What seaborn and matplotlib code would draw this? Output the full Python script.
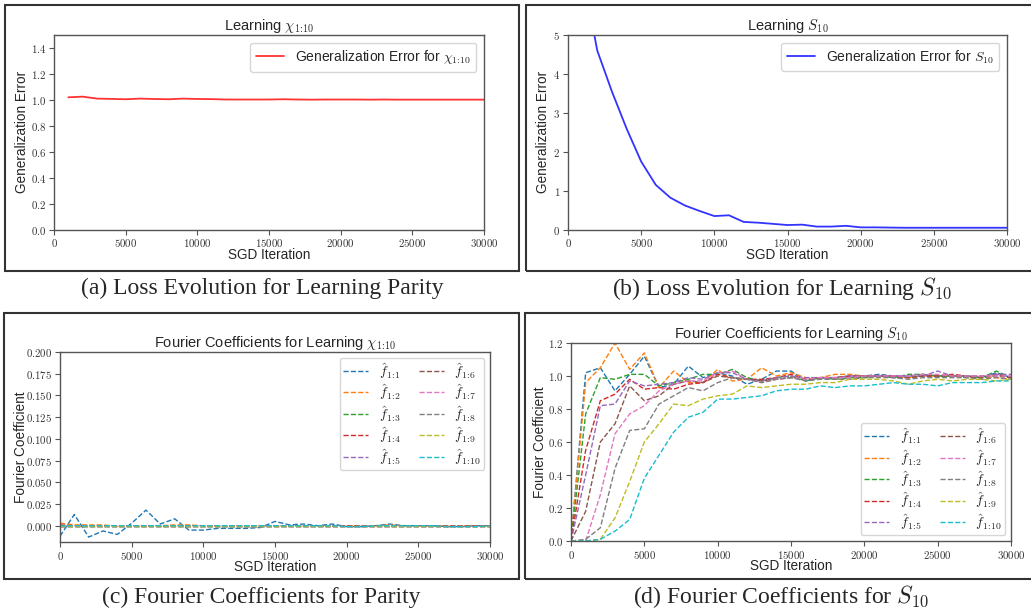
import numpy as np
import pandas as pd
import matplotlib
matplotlib.use("Agg")
import matplotlib.pyplot as plt
import seaborn as sns
from matplotlib.patches import Rectangle
from matplotlib.ticker import FormatStrFormatter, MultipleLocator

# ---------------- data ----------------
iters_a = [1000, 2000, 3000, 4000, 5000, 6000, 7000, 8000, 9000, 10000,
           11000, 12000, 13000, 14000, 15000, 16000, 17000, 18000, 19000, 20000,
           21000, 22000, 23000, 24000, 25000, 26000, 27000, 28000, 29000, 30000]
err_parity = [1.020, 1.025, 1.010, 1.008, 1.005, 1.010, 1.007, 1.005, 1.010, 1.007,
              1.006, 1.003, 1.003, 1.003, 1.003, 1.005, 1.003, 1.002, 1.003, 1.003,
              1.003, 1.002, 1.003, 1.002, 1.002, 1.002, 1.002, 1.002, 1.002, 1.002]
err_s10 = [6.6, 4.6, 3.55, 2.6, 1.75, 1.15, 0.82, 0.62, 0.48, 0.35,
           0.37, 0.20, 0.18, 0.15, 0.12, 0.13, 0.08, 0.08, 0.10, 0.06,
           0.06, 0.055, 0.05, 0.05, 0.05, 0.05, 0.05, 0.05, 0.05, 0.05]

iters = [0, 1000, 2000, 3000, 4000, 5000, 6000, 7000, 8000, 9000, 10000,
         11000, 12000, 13000, 14000, 15000, 16000, 17000, 18000, 19000, 20000,
         21000, 22000, 23000, 24000, 25000, 26000, 27000, 28000, 29000, 30000]

coef_labels = [r"$\hat{f}_{1\!:\!%d}$" % k for k in range(1, 11)]

# Parity Fourier coefficients
par_1 = [-0.012, 0.013, -0.013, -0.006, -0.010, 0.003, 0.018, 0.002, 0.008, -0.005, -0.005,
         -0.003, -0.003, -0.003, -0.002, 0.005, 0.001, 0.002, 0.000, 0.002, -0.001,
         -0.001, 0.000, 0.002, 0.000, 0.000, 0.000, -0.001, -0.001, 0.000, 0.000]
par_2 = [0.003, 0.001, 0.001, 0.001, -0.001, 0.000, 0.000, 0.000, 0.001, 0.001, 0.000,
         0.000, 0.000, 0.000, 0.000, 0.000, 0.000, 0.000, 0.000, 0.000, 0.000,
         0.000, 0.000, 0.001, 0.000, 0.000, 0.000, 0.000, 0.000, 0.000, 0.000]
par_3 = [0.000, 0.000, 0.000, 0.000, 0.000, 0.000, 0.000, 0.000, 0.000, 0.000, 0.000,
         0.000, 0.000, 0.000, 0.000, 0.000, 0.000, 0.000, 0.000, 0.000, 0.000,
         0.000, 0.000, 0.000, 0.000, 0.000, 0.000, 0.000, 0.000, 0.000, 0.000]
par_4 = [0.001, 0.000, 0.000, 0.000, 0.000, 0.000, 0.000, 0.000, 0.000, 0.000, 0.000,
         0.000, 0.000, 0.000, 0.000, 0.000, 0.000, 0.000, 0.000, 0.000, 0.000,
         0.000, 0.000, 0.000, 0.000, 0.000, 0.000, 0.000, 0.000, 0.000, 0.000]
par_5 = [0.000, 0.000, 0.000, 0.000, 0.000, 0.000, 0.000, 0.000, 0.000, 0.000, 0.000,
         0.000, 0.000, 0.000, 0.000, 0.000, 0.000, 0.000, 0.000, 0.000, 0.000,
         0.000, 0.000, 0.000, 0.000, 0.000, 0.000, 0.000, 0.000, 0.000, 0.000]
par_6 = [0.000, 0.000, 0.000, 0.000, 0.000, 0.000, 0.000, 0.000, 0.000, 0.000, 0.000,
         0.000, 0.000, 0.000, 0.000, 0.000, 0.000, 0.000, 0.000, 0.000, 0.000,
         0.000, 0.000, 0.000, 0.000, 0.000, 0.000, 0.000, 0.000, 0.000, 0.000]
par_7 = [0.000, 0.000, 0.000, 0.000, 0.000, 0.000, 0.000, 0.000, 0.000, 0.000, 0.000,
         0.000, 0.000, 0.000, 0.000, 0.000, 0.000, 0.000, 0.000, 0.000, 0.000,
         0.000, 0.000, 0.000, 0.000, 0.000, 0.000, 0.000, 0.000, 0.000, 0.000]
par_8 = [0.000, 0.000, 0.000, 0.000, 0.000, 0.000, 0.000, 0.000, 0.000, 0.000, 0.000,
         0.000, 0.000, 0.000, 0.000, 0.000, 0.000, 0.000, 0.000, 0.000, 0.000,
         0.000, 0.000, 0.000, 0.000, 0.000, 0.000, 0.000, 0.000, 0.000, 0.000]
par_9 = [0.000, 0.000, 0.000, 0.000, 0.000, 0.000, 0.000, 0.000, 0.000, 0.000, 0.000,
         0.000, 0.000, 0.000, 0.000, 0.000, 0.000, 0.000, 0.000, 0.000, 0.000,
         0.000, 0.000, 0.000, 0.000, 0.000, 0.000, 0.000, 0.000, 0.000, 0.000]
par_10 = [0.000, 0.000, 0.000, 0.000, 0.000, 0.000, 0.000, 0.000, 0.000, 0.000, 0.000,
          0.000, 0.000, 0.000, 0.000, 0.000, 0.000, 0.000, 0.000, 0.000, -0.001,
          -0.001, 0.000, 0.000, 0.000, 0.000, 0.000, -0.001, -0.001, -0.001, 0.000]

# S10 Fourier coefficients
s_1 = [0.0, 1.02, 1.05, 0.91, 1.01, 1.12, 0.93, 0.95, 1.06, 0.99, 1.02,
       1.00, 0.95, 0.98, 1.03, 1.03, 0.97, 0.99, 0.99, 1.00, 1.00,
       1.01, 1.00, 1.00, 1.01, 1.00, 1.00, 1.00, 0.99, 1.02, 0.99]
s_2 = [0.0, 0.96, 1.05, 1.20, 1.04, 1.14, 0.93, 1.03, 0.96, 0.96, 1.04,
       0.97, 0.98, 1.05, 1.00, 1.02, 0.99, 0.99, 1.01, 1.01, 1.00,
       1.00, 1.00, 0.99, 1.00, 1.00, 1.00, 1.00, 1.00, 0.99, 0.98]
s_3 = [0.0, 0.77, 0.99, 0.98, 1.01, 1.01, 0.94, 0.96, 0.98, 1.01, 1.01,
       1.04, 0.99, 0.97, 0.99, 1.00, 0.97, 0.99, 0.98, 0.99, 0.99,
       1.00, 0.99, 1.01, 1.01, 1.00, 1.00, 1.00, 0.99, 1.03, 0.99]
s_4 = [0.0, 0.55, 0.85, 0.89, 0.98, 0.92, 0.93, 0.92, 0.95, 0.96, 1.01,
       0.99, 0.98, 0.98, 0.99, 1.01, 0.98, 0.99, 0.99, 1.00, 1.00,
       1.00, 1.00, 0.99, 1.00, 1.00, 1.01, 1.00, 0.99, 1.01, 0.99]
s_5 = [0.0, 0.40, 0.82, 0.83, 0.97, 0.94, 0.95, 0.96, 0.99, 0.98, 1.02,
       1.02, 0.98, 0.97, 0.99, 1.00, 0.99, 0.99, 0.99, 1.00, 1.00,
       1.00, 1.00, 1.00, 1.00, 1.03, 1.00, 1.00, 1.00, 1.01, 1.01]
s_6 = [0.0, 0.18, 0.60, 0.71, 0.94, 0.85, 0.88, 0.95, 0.97, 0.96, 1.00,
       0.99, 0.98, 0.97, 0.98, 0.99, 0.98, 0.99, 0.99, 0.99, 1.00,
       1.00, 0.99, 0.99, 1.00, 1.00, 1.00, 0.99, 0.99, 1.00, 0.99]
s_7 = [0.0, 0.00, 0.28, 0.65, 0.77, 0.82, 0.91, 0.95, 0.97, 0.97, 1.02,
       1.03, 0.98, 0.96, 0.98, 0.99, 0.98, 0.99, 0.99, 0.99, 1.00,
       1.00, 1.00, 1.00, 1.01, 1.01, 1.00, 1.00, 1.00, 1.00, 1.00]
s_8 = [0.0, 0.01, 0.08, 0.44, 0.67, 0.68, 0.83, 0.88, 0.93, 0.91, 0.96,
       0.99, 0.98, 0.96, 0.98, 0.99, 0.97, 0.98, 0.98, 0.98, 0.99,
       0.99, 0.99, 0.98, 0.99, 0.99, 0.99, 0.99, 0.98, 0.99, 0.98]
s_9 = [0.0, 0.00, 0.01, 0.14, 0.36, 0.60, 0.71, 0.83, 0.82, 0.86, 0.88,
       0.89, 0.94, 0.93, 0.94, 0.95, 0.95, 0.96, 0.96, 0.98, 0.98,
       0.98, 0.97, 0.95, 0.97, 0.98, 0.97, 0.98, 0.98, 0.97, 0.98]
s_10 = [0.0, 0.00, 0.01, 0.06, 0.13, 0.38, 0.52, 0.66, 0.75, 0.78, 0.86,
        0.86, 0.87, 0.88, 0.91, 0.92, 0.92, 0.94, 0.93, 0.94, 0.94,
        0.95, 0.96, 0.95, 0.95, 0.94, 0.96, 0.96, 0.96, 0.97, 0.97]

parity_coefs = [par_1, par_2, par_3, par_4, par_5, par_6, par_7, par_8, par_9, par_10]
s10_coefs = [s_1, s_2, s_3, s_4, s_5, s_6, s_7, s_8, s_9, s_10]

# ---------------- style ----------------
sns.set_style("white")
plt.rcParams["font.family"] = ["Liberation Sans", "DejaVu Sans"]
plt.rcParams["mathtext.fontset"] = "cm"
plt.rcParams["axes.edgecolor"] = "#555555"
plt.rcParams["axes.linewidth"] = 1.0
plt.rcParams["xtick.bottom"] = True
plt.rcParams["ytick.left"] = True
plt.rcParams["xtick.color"] = "#555555"
plt.rcParams["ytick.color"] = "#555555"
plt.rcParams["xtick.labelcolor"] = "#333333"
plt.rcParams["ytick.labelcolor"] = "#333333"
plt.rcParams["xtick.major.size"] = 3.5
plt.rcParams["ytick.major.size"] = 3.5

W, H = 1031, 614
fig = plt.figure(figsize=(W / 100, H / 100), dpi=100)
fig.patch.set_facecolor("white")


def px_axes(l, t, r, b):
    return fig.add_axes([l / W, 1 - b / H, (r - l) / W, (b - t) / H])


ax_a = px_axes(54, 35, 484, 229.7)
ax_b = px_axes(568, 35, 1007, 229.7)
ax_c = px_axes(60, 352, 490, 542)
ax_d = px_axes(571, 343, 1011, 541)

tick_fs = 7.8
label_fs = 9.8
title_fs = 10.5
CHI = r"$\chi_{1\!:\!10}$"

leg_kw = dict(ncol=2, fontsize=10, columnspacing=1.3, labelspacing=0.12,
              handlelength=1.8, handletextpad=0.75, borderpad=0.25,
              borderaxespad=0.4)

# (a)
df_a = pd.DataFrame({"it": iters_a, "err": err_parity})
sns.lineplot(data=df_a, x="it", y="err", ax=ax_a, color="red", alpha=0.8, lw=1.3,
             label="Generalization Error for " + CHI)
ax_a.set_xlim(0, 30000)
ax_a.set_ylim(0, 1.5)
ax_a.yaxis.set_major_locator(MultipleLocator(0.2))
ax_a.yaxis.set_major_formatter(FormatStrFormatter(r"$%.1f$"))
ax_a.set_title("Learning " + CHI, fontsize=title_fs, pad=3)
ax_a.set_ylabel("Generalization Error", fontsize=label_fs)
ax_a.yaxis.set_label_coords(-0.058, 0.5)
ax_a.legend(loc="upper right", fontsize=10, borderaxespad=0.55)

# (b)
df_b = pd.DataFrame({"it": iters_a, "err": err_s10})
sns.lineplot(data=df_b, x="it", y="err", ax=ax_b, color="blue", alpha=0.8, lw=1.3,
             label=r"Generalization Error for $S_{10}$")
ax_b.set_xlim(0, 30000)
ax_b.set_ylim(0, 5)
ax_b.yaxis.set_major_locator(MultipleLocator(1))
ax_b.yaxis.set_major_formatter(FormatStrFormatter(r"$%d$"))
ax_b.set_title(r"Learning $S_{10}$", fontsize=title_fs, pad=3)
ax_b.set_ylabel("Generalization Error", fontsize=label_fs)
ax_b.yaxis.set_label_coords(-0.04, 0.5)
ax_b.legend(loc="upper right", fontsize=10, borderaxespad=0.55)

palette = sns.color_palette("tab10", 10)

# (c)
for k in range(10):
    d = pd.DataFrame({"it": iters, "v": parity_coefs[k]})
    sns.lineplot(data=d, x="it", y="v", ax=ax_c, color=palette[k], lw=1.0,
                 linestyle="--", label=coef_labels[k])
ax_c.set_xlim(0, 30000)
ax_c.set_ylim(-0.0187, 0.2)
ax_c.yaxis.set_major_locator(MultipleLocator(0.025))
ax_c.yaxis.set_major_formatter(FormatStrFormatter(r"$%.3f$"))
ax_c.set_title("Fourier Coefficients for Learning " + CHI, fontsize=title_fs, pad=3)
ax_c.set_ylabel("Fourier Coefficient", fontsize=label_fs)
ax_c.yaxis.set_label_coords(-0.074, 0.5)
ax_c.legend(loc="upper right", **leg_kw)

# (d)
for k in range(10):
    d = pd.DataFrame({"it": iters, "v": s10_coefs[k]})
    sns.lineplot(data=d, x="it", y="v", ax=ax_d, color=palette[k], lw=1.0,
                 linestyle="--", label=coef_labels[k])
ax_d.set_xlim(0, 30000)
ax_d.set_ylim(0, 1.2)
ax_d.yaxis.set_major_locator(MultipleLocator(0.2))
ax_d.yaxis.set_major_formatter(FormatStrFormatter(r"$%.1f$"))
ax_d.set_title(r"Fourier Coefficients for Learning $S_{10}$", fontsize=title_fs, pad=3)
ax_d.set_ylabel("Fourier Coefficient", fontsize=label_fs)
ax_d.yaxis.set_label_coords(-0.054, 0.5)
ax_d.legend(loc="lower right", **leg_kw)

for ax in (ax_a, ax_b, ax_c, ax_d):
    ax.xaxis.set_major_locator(MultipleLocator(5000))
    ax.xaxis.set_major_formatter(FormatStrFormatter(r"$%d$"))
    ax.tick_params(labelsize=tick_fs, pad=2)
    ax.set_xlabel("SGD Iteration", fontsize=label_fs, labelpad=-1)
    for s in ax.spines.values():
        s.set_visible(True)

# frames around each sub-figure
for (x0, y0, x1, y1) in [(5, 5, 519, 271), (526, 5, 1040, 271),
                         (4, 313, 519, 579), (525, 313, 1040, 579)]:
    fig.add_artist(Rectangle((x0 / W, 1 - y1 / H), (x1 - x0) / W, (y1 - y0) / H,
                             transform=fig.transFigure, fill=False,
                             ec="#333333", lw=1.5, clip_on=False))

cap_kw = dict(ha="center", va="center", fontsize=17, family=["Liberation Serif"])
fig.text(262 / W, 1 - 288 / H, "(a) Loss Evolution for Learning Parity", **cap_kw)
fig.text(782 / W, 1 - 288 / H, r"(b) Loss Evolution for Learning $S_{10}$", **cap_kw)
fig.text(261 / W, 1 - 597 / H, "(c) Fourier Coefficients for Parity", **cap_kw)
fig.text(781 / W, 1 - 597 / H, r"(d) Fourier Coefficients for $S_{10}$", **cap_kw)

fig.savefig("out.png", dpi=100, facecolor="white")
